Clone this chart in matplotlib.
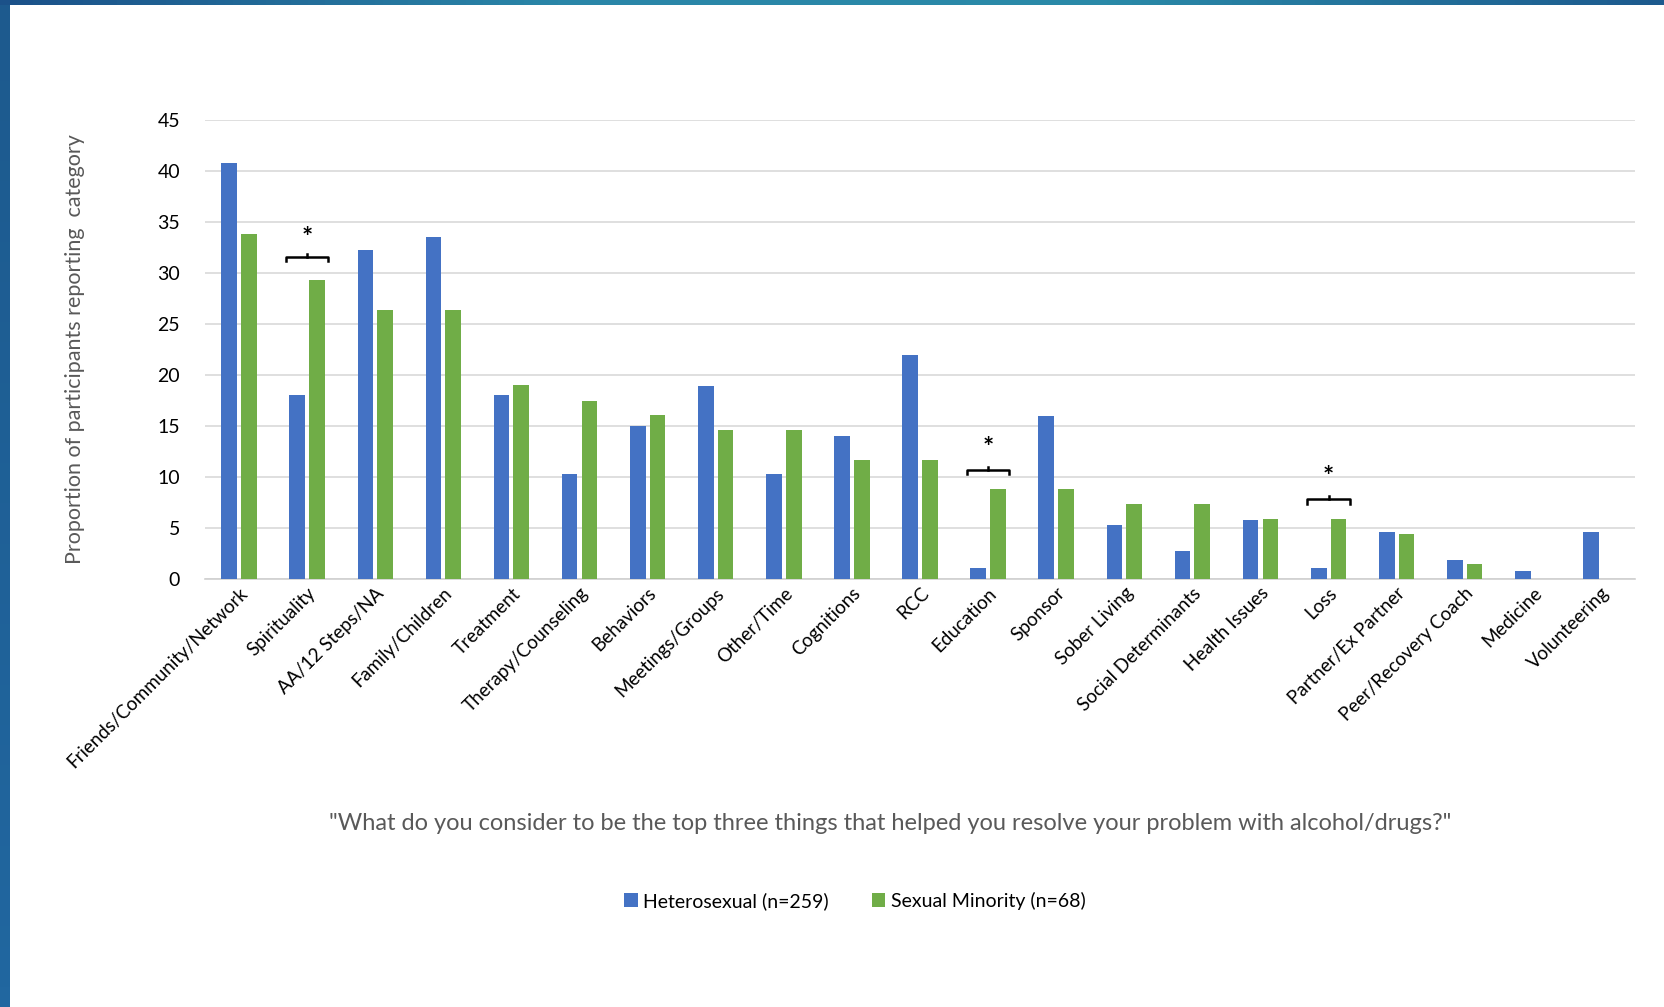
import numpy as np
import matplotlib.pyplot as plt

plt.rcParams['font.family'] = ['Lato', 'DejaVu Sans']

# Data
categories = ["Friends/Community/Network", "Spirituality", "AA/12 Steps/NA", "Family/Children",
              "Treatment", "Therapy/Counseling", "Behaviors", "Meetings/Groups", "Other/Time",
              "Cognitions", "RCC", "Education", "Sponsor", "Sober Living", "Social Determinants",
              "Health Issues", "Loss", "Partner/Ex Partner", "Peer/Recovery Coach", "Medicine",
              "Volunteering"]
hetero = [40.8, 18.0, 32.3, 33.5, 18.0, 10.3, 15.0, 18.9, 10.3, 14.0, 22.0,
          1.1, 16.0, 5.3, 2.7, 5.8, 1.1, 4.6, 1.9, 0.8, 4.6]
minority = [33.8, 29.3, 26.4, 26.4, 19.0, 17.5, 16.1, 14.6, 14.6, 11.7, 11.7,
            8.8, 8.8, 7.4, 7.4, 5.9, 5.9, 4.4, 1.5, 0.0, 0.0]
# significance markers: category index, bracket height, star height
sig_idx = [1, 11, 16]
sig_bracket = [31.6, 10.7, 7.8]
sig_star = [33.4, 12.8, 10.0]

yticks = [0, 5, 10, 15, 20, 25, 30, 35, 40, 45]

fig = plt.figure(figsize=(16.65, 10.07), dpi=100)
fig.patch.set_facecolor('white')

# frame decoration (left bar and top gradient strip)
left_bar = fig.add_axes([0, 0, 10 / 1665, 1])
left_bar.imshow(np.linspace(0, 1, 50).reshape(-1, 1), aspect='auto',
                cmap=plt.matplotlib.colors.LinearSegmentedColormap.from_list('lb', ['#1d5a8e', '#2167a0']))
left_bar.axis('off')
top_bar = fig.add_axes([0, 1 - 5 / 1007, 1, 5 / 1007])
top_bar.imshow(np.linspace(0, 1, 200).reshape(1, -1), aspect='auto',
               cmap=plt.matplotlib.colors.LinearSegmentedColormap.from_list(
                   'tb', ['#1b5189', '#2a86a8', '#2a8aa8', '#1d5a8e']))
top_bar.axis('off')

ax = fig.add_axes([205 / 1665, 1 - 579 / 1007, (1635 - 205) / 1665, (579 - 120) / 1007])
x = np.arange(len(categories))
w = 0.23
off = 0.145
ax.bar(x - off, hetero, w, color='#4472C4', label='Heterosexual (n=259)', zorder=3)
ax.bar(x + off, minority, w, color='#70AD47', label='Sexual Minority (n=68)', zorder=3)

for i, yb, ys in zip(sig_idx, sig_bracket, sig_star):
    x0, x1 = i - 0.31, i + 0.31
    ax.plot([x0, x0, x1, x1], [yb - 0.4, yb, yb, yb - 0.4], color='black', lw=1.8, zorder=4)
    ax.plot([i, i], [yb, yb + 0.3], color='black', lw=1.8, zorder=4)
    ax.text(i, ys, '*', ha='center', va='center', fontsize=19, fontweight='bold')

ax.set_xlim(-0.5, len(categories) - 0.5)
ax.set_ylim(0, 45)
ax.set_yticks(yticks)
ax.yaxis.grid(True, color='#D9D9D9', lw=1.2, zorder=0)
ax.tick_params(axis='y', length=0, pad=18, labelsize=14)
ax.tick_params(axis='x', length=0, pad=4)
for s in ['top', 'right', 'left']:
    ax.spines[s].set_visible(False)
ax.spines['bottom'].set_color('#D0D0D0')
ax.spines['bottom'].set_linewidth(1.2)
ax.set_xticks(x)
ax.set_xticklabels(categories, rotation=45, ha='right', rotation_mode='anchor', fontsize=13.5)

ax.set_ylabel('Proportion of participants reporting  category', fontsize=15.5, color='#595959', labelpad=52)
fig.text(890 / 1665, 1 - 824 / 1007,
         '"What do you consider to be the top three things that helped you resolve your problem with alcohol/drugs?"',
         ha='center', va='center', fontsize=17, color='#595959')

fig.legend(loc='center', bbox_to_anchor=(855 / 1665, 1 - 901 / 1007), ncol=2, frameon=False,
           fontsize=14, handlelength=0.7, handleheight=0.7, handletextpad=0.3, columnspacing=2.2)

fig.savefig('out.png', dpi=100)
